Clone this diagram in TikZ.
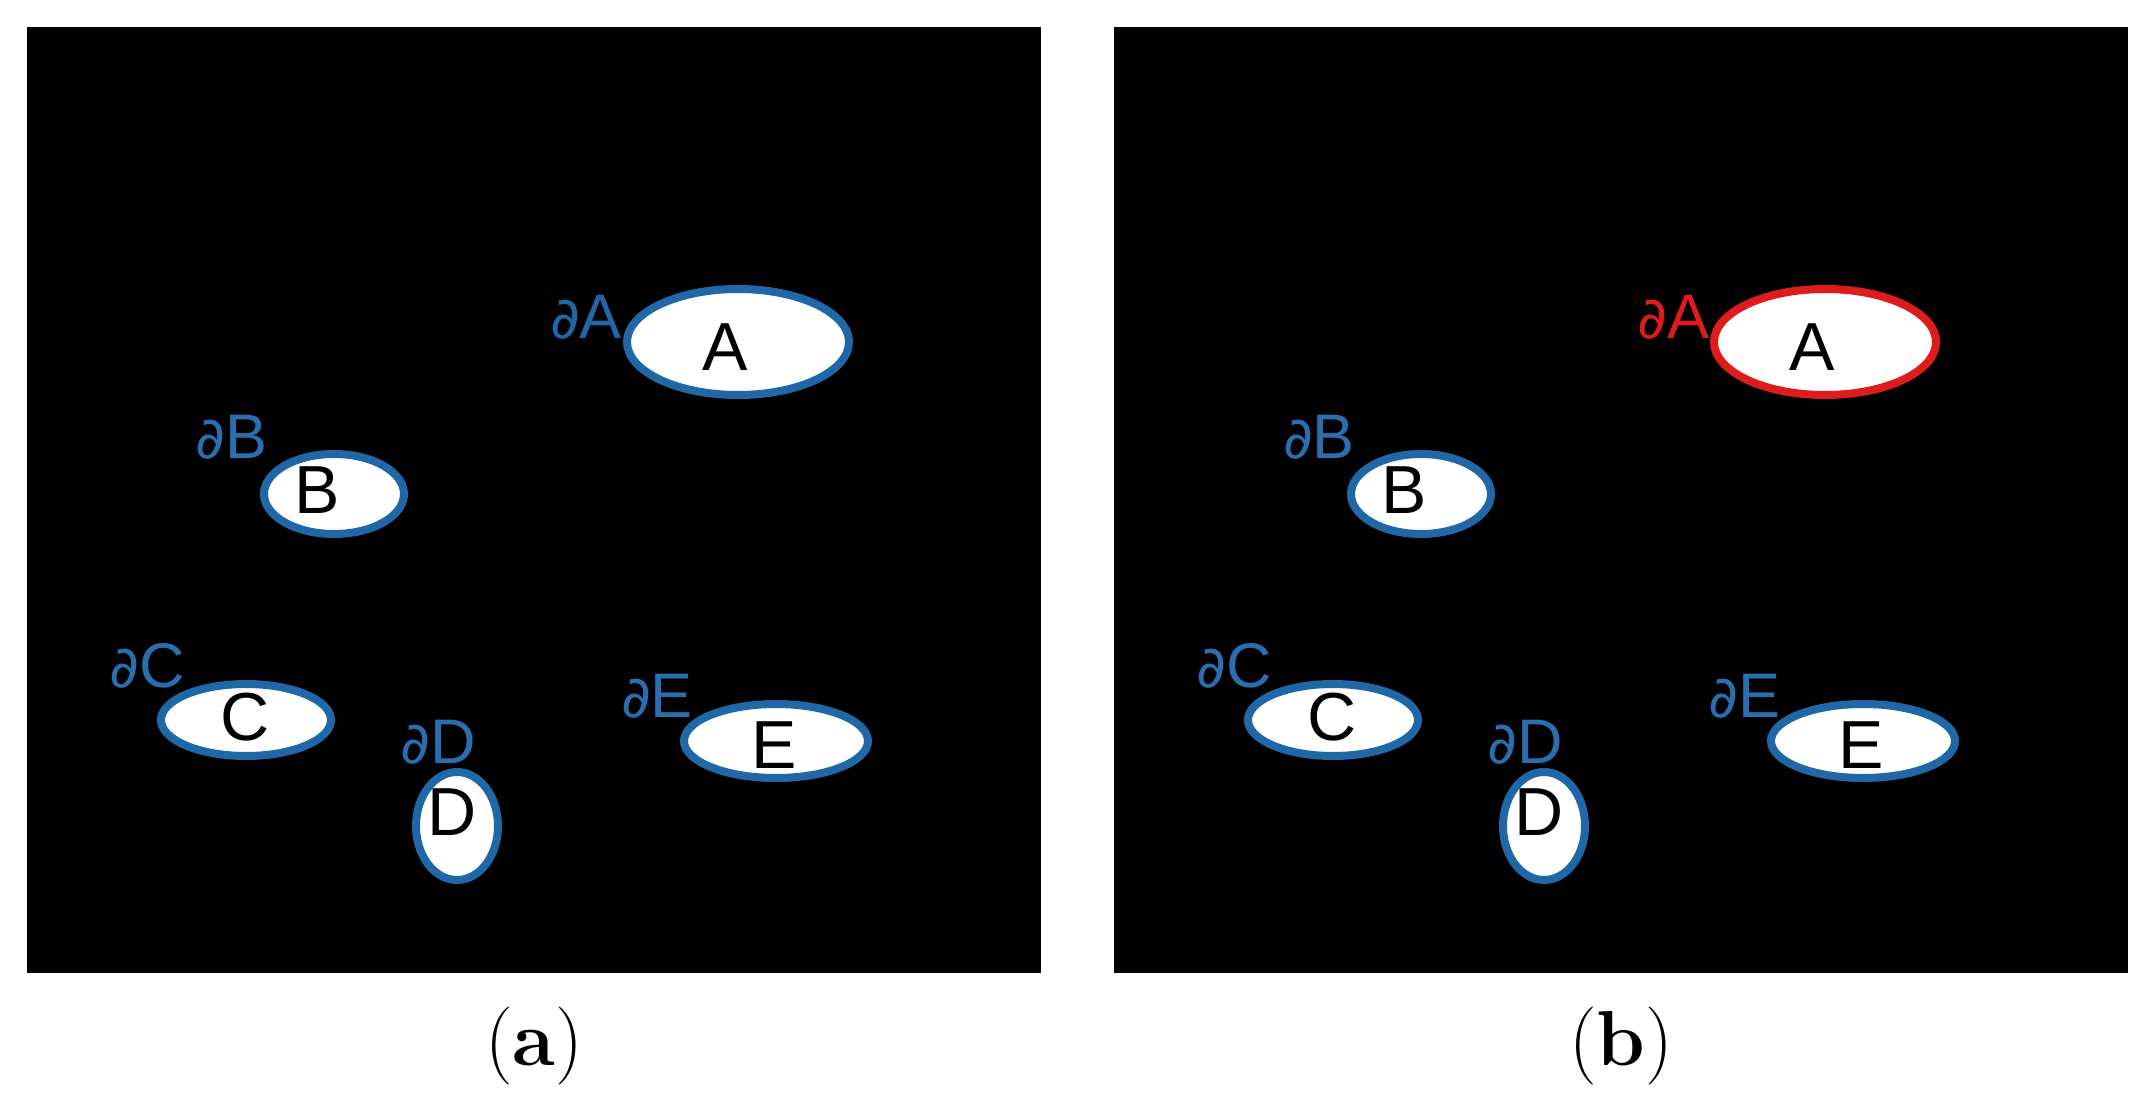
\documentclass[tikz,border=0pt]{standalone}
\usepackage{fontspec}
\usetikzlibrary{shapes.geometric}
\newfontfamily\arialf{Liberation Sans}
\newfontfamily\partf{DejaVu Sans}
\definecolor{rimblue}{RGB}{31,103,166}
\definecolor{lblblue}{RGB}{42,110,178}
\definecolor{rimred}{RGB}{222,28,28}
\newcommand\pd{{\partf\fontsize{58}{58}\selectfont ∂}}
\newcommand\drawpanel[4]{%
  \begin{scope}[xshift=#2pt]
    \node[panelbox] (#1frame) at (27,27) {};
    \node[region, draw=#3, minimum width=222pt, minimum height=106pt] (#1A) at (738,342) {};
    \node[region, minimum width=140pt, minimum height=80pt] (#1B) at (334,494) {};
    \node[region, minimum width=170pt, minimum height=72pt] (#1C) at (246,720) {};
    \node[region, minimum width=82pt, minimum height=108pt] (#1D) at (457,826) {};
    \node[region, minimum width=184pt, minimum height=74pt] (#1E) at (776,741) {};
    \node[letter] (#1tA) at (725,370) {A};
    \node[letter] (#1tB) at (317,513) {B};
    \node[letter] (#1tC) at (245,740) {C};
    \node[letter] (#1tD) at (452,835) {D};
    \node[letter] (#1tE) at (774,768) {E};
    \node[bound, text=#3] (#1bA) at (586,338) {\pd A};
    \node[bound] (#1bB) at (232,458) {\pd B};
    \node[bound] (#1bC) at (147,687) {\pd C};
    \node[bound] (#1bD) at (438,763) {\pd D};
    \node[bound] (#1bE) at (657,717) {\pd E};
    \node[caption] (#1cap) at (534,1046) {(\textbf{#4})};
  \end{scope}}
\begin{document}
\begin{tikzpicture}[x=1pt,y=-1pt,
  panelbox/.style={fill=black, draw=none, inner sep=0pt, minimum width=1014pt, minimum height=946pt, anchor=north west},
  region/.style={ellipse, draw=rimblue, line width=8pt, fill=white, inner sep=0pt},
  letter/.style={font=\arialf\fontsize{68}{68}\selectfont, text=black, inner sep=0pt, anchor=base},
  bound/.style={font=\arialf\fontsize{63}{63}\selectfont, text=lblblue, inner sep=0pt, anchor=base},
  caption/.style={font=\fontsize{78}{78}\selectfont, inner sep=0pt}]
\useasboundingbox (0,0) rectangle (2150,1102);
\fill[white] (0,0) rectangle (2150,1102);
\drawpanel{a}{0}{rimblue}{a}
\drawpanel{b}{1087}{rimred}{b}
\end{tikzpicture}
\end{document}
